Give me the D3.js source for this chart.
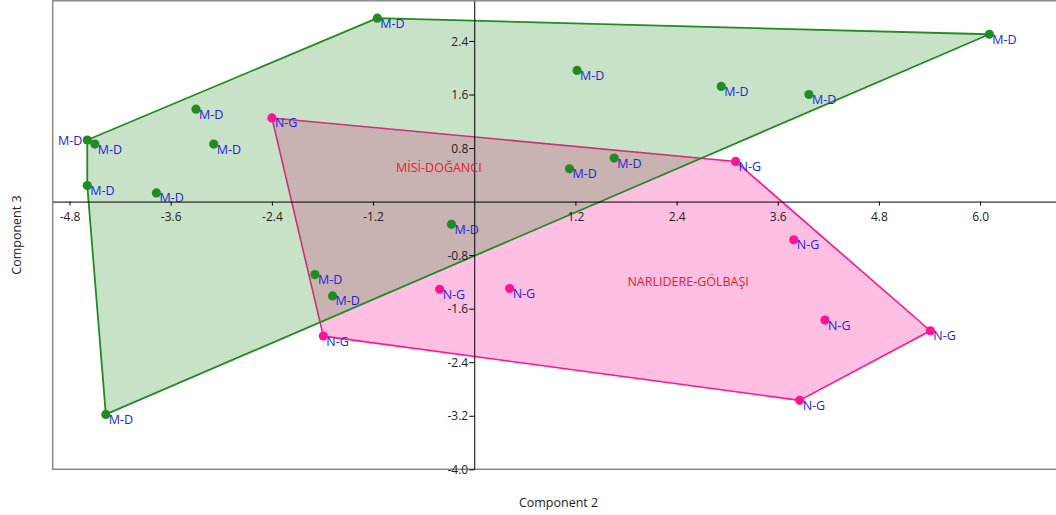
<!DOCTYPE html>
<html>
<head>
<meta charset="utf-8">
<script src="https://cdn.jsdelivr.net/npm/d3@7"></script>
<style>
  html, body { margin: 0; padding: 0; background: #fff; }
  svg { display: block; font-family: "Open Sans", "Noto Sans", sans-serif; }
</style>
</head>
<body>
<svg id="chart" width="1056" height="515"></svg>
<script>
// Component scores, group M-D (MİSİ-DOĞANCI)
const mdComp2 = [-1.15, 6.11, 1.22, 2.93, 3.97, -3.30, -4.50, -4.59, -3.09, 1.66, 1.13, -4.59, -3.77, -0.27, -1.89, -1.68, -4.37];
const mdComp3 = [2.74, 2.50, 1.96, 1.72, 1.60, 1.38, 0.86, 0.92, 0.86, 0.65, 0.49, 0.24, 0.13, -0.34, -1.09, -1.41, -3.18];

// Component scores, group N-G (NARLIDERE-GÖLBAŞI)
const ngComp2 = [-2.40, 3.10, 3.79, -0.41, 0.42, 4.16, 5.41, -1.79, 3.86];
const ngComp3 = [1.25, 0.60, -0.57, -1.31, -1.30, -1.77, -1.93, -2.01, -2.97];

const groupNames = ["NARLIDERE-GÖLBAŞI", "MİSİ-DOĞANCI"];
const groupCodes = ["N-G", "M-D"];

const xTicks = [-4.8, -3.6, -2.4, -1.2, 1.2, 2.4, 3.6, 4.8, 6.0];
const yTicks = [2.4, 1.6, 0.8, -0.8, -1.6, -2.4, -3.2, -4.0];

const xTitle = "Component 2";
const yTitle = "Component 3";

const svg = d3.select("#chart");

const x = d3.scaleLinear().domain([-5, 7]).range([52.7, 1064.4]);
const y = d3.scaleLinear().domain([-4, 3]).range([469.3, 0.8]);

const groups = [
  { name: groupNames[0], code: groupCodes[0], xs: ngComp2, ys: ngComp3,
    color: "#ff1493", fillOpacity: 0.27, strokeWidth: 1.6 },
  { name: groupNames[1], code: groupCodes[1], xs: mdComp2, ys: mdComp3,
    color: "#228b22", fillOpacity: 0.25, strokeWidth: 1.8 }
];
groups.forEach(g => {
  g.pts = g.xs.map((v, i) => [v, g.ys[i]]);
});

// Plot frame
svg.append("rect")
  .attr("x", x(-5)).attr("y", y(3))
  .attr("width", x(7) - x(-5)).attr("height", y(-4) - y(3))
  .attr("fill", "none").attr("stroke", "#8a8a8a").attr("stroke-width", 1.5);

// Convex hulls
const hullLayer = svg.append("g");
groups.forEach(g => {
  const hull = d3.polygonHull(g.pts.map(p => [x(p[0]), y(p[1])]));
  hullLayer.append("path")
    .attr("d", "M" + hull.map(p => p.join(",")).join("L") + "Z")
    .attr("fill", g.color).attr("fill-opacity", g.fillOpacity)
    .attr("stroke", g.color).attr("stroke-width", g.strokeWidth)
    .attr("stroke-linejoin", "round");
});

// Axes through the origin
const xAxis = d3.axisBottom(x).tickValues(xTicks).tickSizeInner(4).tickSizeOuter(0)
  .tickFormat(d => d.toFixed(1));
const yAxis = d3.axisLeft(y).tickValues(yTicks).tickSizeInner(5).tickSizeOuter(0)
  .tickFormat(d => d.toFixed(1));

const gx = svg.append("g").attr("transform", `translate(0,${y(0)})`).call(xAxis);
const gy = svg.append("g").attr("transform", `translate(${x(0)},0)`).call(yAxis);
[gx, gy].forEach(g => {
  g.select(".domain").attr("stroke", "#000").attr("stroke-width", 1);
  g.selectAll(".tick line").attr("stroke", "#000");
  g.selectAll(".tick text").attr("fill", "#222").attr("font-size", 12)
    .attr("font-family", "\"Open Sans\", \"Noto Sans\", sans-serif");
});
gx.selectAll(".tick text").attr("dy", "1.05em");
gy.selectAll(".tick text").attr("x", -6).attr("dy", "0.34em");

// Points
const pointLayer = svg.append("g");
groups.forEach(g => {
  pointLayer.selectAll(null).data(g.pts).enter().append("circle")
    .attr("cx", d => x(d[0])).attr("cy", d => y(d[1]))
    .attr("r", 4.6).attr("fill", g.color);
});

// Point labels, lower right of each point; flipped to the left if they collide
const labelLayer = svg.append("g");
const placed = [];
const overlaps = (a, b) =>
  a.x < b.x + b.width && b.x < a.x + a.width &&
  a.y < b.y + b.height && b.y < a.y + a.height;
groups.forEach(g => {
  g.pts.forEach(p => {
    const px = x(p[0]), py = y(p[1]);
    const t = labelLayer.append("text")
      .attr("x", px + 3).attr("y", py + 9.5)
      .attr("fill", "#2424d8").attr("font-size", 12.5)
      .text(g.code);
    let box = t.node().getBBox();
    if (placed.some(b => overlaps(box, b))) {
      t.attr("x", px - 5).attr("y", py + 4.5).attr("text-anchor", "end");
      box = t.node().getBBox();
    }
    placed.push({ x: box.x, y: box.y, width: box.width, height: box.height });
  });
});

// Group names at the group centroids
groups.forEach(g => {
  const cx = d3.mean(g.xs), cy = d3.mean(g.ys);
  labelLayer.append("text")
    .attr("x", x(cx) + 2).attr("y", y(cy) + 10)
    .attr("fill", "#e3242b").attr("font-size", 12.5)
    .text(g.name);
});

// Axis titles
svg.append("text")
  .attr("x", (x(-5) + x(7)) / 2).attr("y", 507)
  .attr("text-anchor", "middle").attr("fill", "#222").attr("font-size", 12.5)
  .text(xTitle);
svg.append("text")
  .attr("transform", `translate(21,${(y(3) + y(-4)) / 2}) rotate(-90)`)
  .attr("text-anchor", "middle").attr("fill", "#222").attr("font-size", 12.5)
  .text(yTitle);
</script>
</body>
</html>
